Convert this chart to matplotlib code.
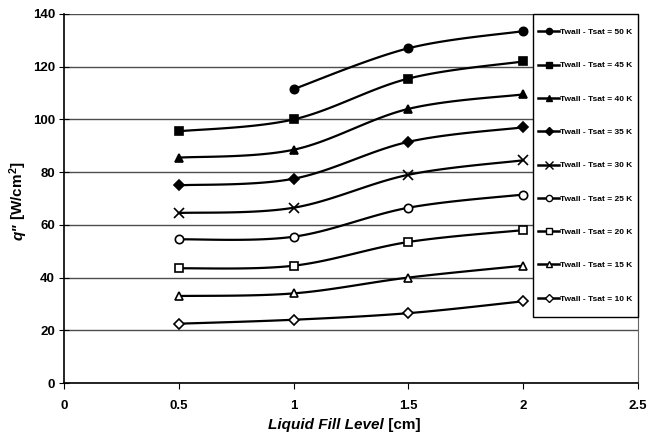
import matplotlib
matplotlib.use('Agg')
import matplotlib.pyplot as plt
from matplotlib.patches import Rectangle
import numpy as np

plt.rcParams['font.family'] = ['Liberation Sans', 'DejaVu Sans']
plt.rcParams['font.weight'] = 'bold'
plt.rcParams['mathtext.fontset'] = 'custom'
plt.rcParams['mathtext.rm'] = 'Liberation Sans:bold'
plt.rcParams['mathtext.it'] = 'Liberation Sans:bold:italic'
plt.rcParams['mathtext.bf'] = 'Liberation Sans:bold'

fill = [0.5, 1.0, 1.5, 2.0]
labels = ['Twall - Tsat = 50 K', 'Twall - Tsat = 45 K', 'Twall - Tsat = 40 K',
          'Twall - Tsat = 35 K', 'Twall - Tsat = 30 K', 'Twall - Tsat = 25 K',
          'Twall - Tsat = 20 K', 'Twall - Tsat = 15 K', 'Twall - Tsat = 10 K']
q50 = [None, 111.5, 127.0, 133.5]
q45 = [95.5, 100.0, 115.5, 122.0]
q40 = [85.5, 88.5, 104.0, 109.5]
q35 = [75.0, 77.5, 91.5, 97.0]
q30 = [64.5, 66.5, 79.0, 84.5]
q25 = [54.5, 55.5, 66.5, 71.5]
q20 = [43.5, 44.5, 53.5, 58.0]
q15 = [33.0, 34.0, 40.0, 44.5]
q10 = [22.5, 24.0, 26.5, 31.0]
series = [q50, q45, q40, q35, q30, q25, q20, q15, q10]
markers = ['o', 's', '^', 'D', 'x', 'o', 's', '^', 'D']
filled = [True, True, True, True, True, False, False, False, False]
msizes = [6, 6, 6, 5, 7, 6, 6, 6, 5]


def smooth(xs, ys, n=30):
    # Excel-like smoothed line (Catmull-Rom bezier) through the points
    p = np.column_stack([xs, ys])
    out = [p[0]]
    for i in range(len(p) - 1):
        p0 = p[i - 1] if i > 0 else p[i]
        p1, p2 = p[i], p[i + 1]
        p3 = p[i + 2] if i + 2 < len(p) else p[i + 1]
        c1 = p1 + (p2 - p0) / 6
        c2 = p2 - (p3 - p1) / 6
        t = np.linspace(0, 1, n)[1:, None]
        b = (1 - t)**3 * p1 + 3 * (1 - t)**2 * t * c1 + 3 * (1 - t) * t**2 * c2 + t**3 * p2
        out.extend(b)
    out = np.array(out)
    return out[:, 0], out[:, 1]


fig = plt.figure(figsize=(6.49, 4.38), dpi=100)
ax = fig.add_axes([64 / 649, 55 / 438, 574 / 649, 369 / 438])

for s, lab, m, f, ms in zip(series, labels, markers, filled, msizes):
    xs = [x for x, y in zip(fill, s) if y is not None]
    ys = [y for y in s if y is not None]
    sx, sy = smooth(xs, ys)
    ax.plot(sx, sy, color='black', lw=1.6, zorder=3)
    ax.plot(xs, ys, linestyle='none', marker=m, ms=ms, color='black',
            mfc='black' if f else 'white', mec='black', mew=1.2, zorder=4)
    ax.plot([], [], color='black', lw=1.8, marker=m, ms=ms * 0.75,
            mfc='black' if f else 'white', mec='black', label=lab)

ax.set_xlim(0, 2.5)
ax.set_ylim(0, 140)
ax.set_xticks([0, 0.5, 1, 1.5, 2, 2.5])
ax.set_xticklabels(['0', '0.5', '1', '1.5', '2', '2.5'])
ax.set_yticks(range(0, 141, 20))
ax.yaxis.grid(True, color='0.3', lw=1)
ax.set_axisbelow(True)
ax.spines['top'].set_visible(False)
ax.spines['right'].set_color('0.4')
ax.spines['right'].set_linewidth(0.8)
ax.spines['left'].set_linewidth(1.2)
ax.spines['bottom'].set_linewidth(1.2)
ax.tick_params(axis='y', direction='inout', length=7, labelsize=9.5, pad=3)
ax.tick_params(axis='x', direction='out', length=4, labelsize=9.5, pad=8)
ax.tick_params(axis='y', right=False)

# axis labels: italic part and upright part as separate texts
fig.text(0.592, 0.03, 'Liquid Fill Level', fontsize=11, style='italic',
         weight='bold', ha='right', va='center')
fig.text(0.592, 0.03, ' [cm]', fontsize=11, weight='bold', ha='left', va='center')
fig.text(0.028, 0.489, 'q"', fontsize=11, style='italic', weight='bold',
         rotation=90, ha='center', va='top')
fig.text(0.028, 0.489, ' [W/cm$^2$]', fontsize=11, weight='bold',
         rotation=90, ha='center', va='bottom')

# legend box drawn by hand, entries centred in it
bx0, by0 = (533 - 64) / 574, (383 - 317) / 369
ax.add_patch(Rectangle((bx0, by0), 1 - bx0, 1 - by0, transform=ax.transAxes,
                       facecolor='white', edgecolor='black', lw=1.0, zorder=5,
                       clip_on=False))
leg = ax.legend(loc='center', bbox_to_anchor=(bx0, by0, 1 - bx0, 1 - by0),
                fontsize=6, labelspacing=3.06, handlelength=2.5,
                handletextpad=0.1, borderpad=0.2, borderaxespad=0,
                frameon=False)
leg.set_zorder(6)

fig.savefig('out.png', dpi=100)
